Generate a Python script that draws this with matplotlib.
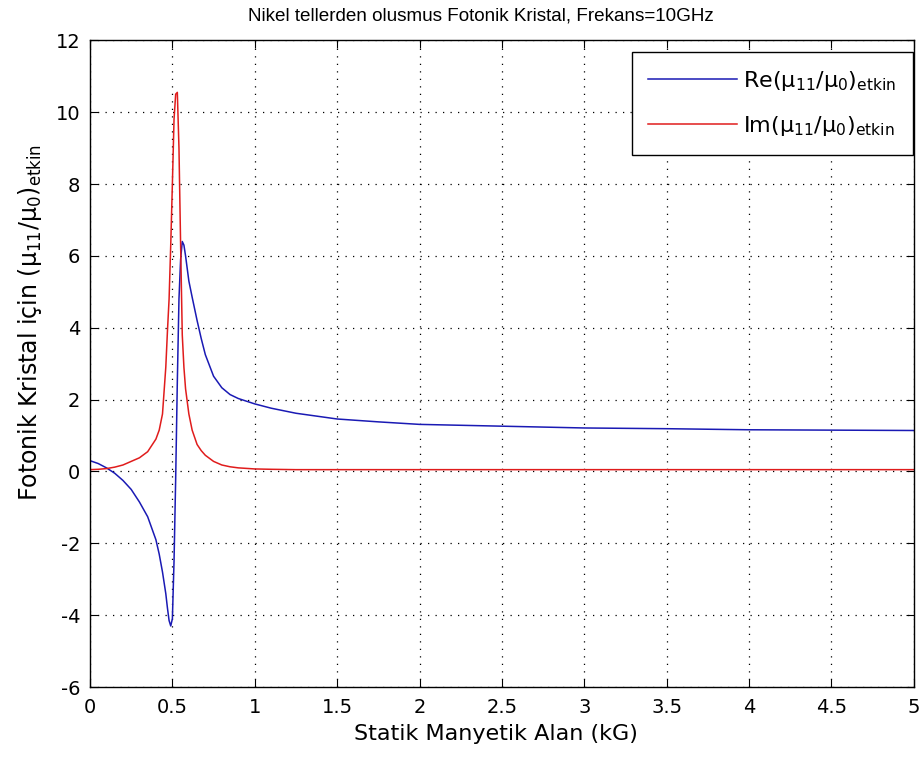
import matplotlib
matplotlib.use("Agg")
import matplotlib.pyplot as plt

# values
field_kG = [0.0, 0.05, 0.1, 0.15, 0.2, 0.25, 0.3, 0.35, 0.4, 0.42, 0.44, 0.46,
            0.47, 0.48, 0.49, 0.50, 0.51, 0.52, 0.53, 0.54, 0.55, 0.56, 0.57,
            0.58, 0.60, 0.62, 0.65, 0.675, 0.70, 0.75, 0.80, 0.85, 0.9, 1.0,
            1.1, 1.25, 1.5, 1.75, 2.0, 2.5, 3.0, 3.5, 4.0, 4.5, 5.0]

re_mu = [0.30, 0.22, 0.10, -0.05, -0.25, -0.50, -0.85, -1.26, -1.90, -2.30,
         -2.80, -3.40, -3.80, -4.15, -4.30, -4.10, -2.50, -0.20, 2.50, 4.80,
         5.90, 6.40, 6.30, 6.00, 5.30, 4.85, 4.20, 3.70, 3.25, 2.65, 2.33,
         2.14, 2.03, 1.88, 1.76, 1.62, 1.46, 1.38, 1.31, 1.26, 1.21, 1.19,
         1.16, 1.15, 1.14]

im_mu = [0.05, 0.06, 0.08, 0.12, 0.18, 0.28, 0.38, 0.55, 0.90, 1.15, 1.60,
         2.90, 3.90, 4.80, 6.30, 8.00, 9.80, 10.50, 10.55, 9.00, 6.30, 3.80,
         2.90, 2.30, 1.60, 1.15, 0.75, 0.58, 0.45, 0.28, 0.18, 0.13, 0.10,
         0.07, 0.06, 0.05, 0.05, 0.05, 0.05, 0.05, 0.05, 0.05, 0.05, 0.05,
         0.05]

x_ticks = [0, 0.5, 1, 1.5, 2, 2.5, 3, 3.5, 4, 4.5, 5]
x_tick_labels = ["0", "0.5", "1", "1.5", "2", "2.5", "3", "3.5", "4", "4.5", "5"]
y_ticks = [-6, -4, -2, 0, 2, 4, 6, 8, 10, 12]

plt.rcParams["font.family"] = ["DejaVu Sans"]
plt.rcParams["axes.unicode_minus"] = False

fig = plt.figure(figsize=(9.24, 7.6), dpi=100)
ax = fig.add_axes([0.0974, 0.096, 0.8916, 0.851])

ax.plot(field_kG, re_mu, color="#1a1ab4", linewidth=1.1,
        label="Re(μ$_{11}$/μ$_{0}$)$_{\\mathrm{etkin}}$")
ax.plot(field_kG, im_mu, color="#e01c1c", linewidth=1.1,
        label="Im(μ$_{11}$/μ$_{0}$)$_{\\mathrm{etkin}}$")

ax.set_xlim(0, 5)
ax.set_ylim(-6, 12)
ax.set_xticks(x_ticks)
ax.set_xticklabels(x_tick_labels)
ax.set_yticks(y_ticks)
ax.tick_params(direction="in", top=True, right=True, labelsize=14, length=6)
ax.tick_params(axis="x", pad=8)
ax.tick_params(axis="y", pad=7)
ax.grid(True, linestyle=(0, (1, 5)), color="black", linewidth=0.9)
for spine in ax.spines.values():
    spine.set_linewidth(1.0)

ax.set_title("Nikel tellerden olusmus Fotonik Kristal, Frekans=10GHz",
             fontsize=13.6, pad=14, x=0.474, family=["Liberation Sans", "DejaVu Sans"])
ax.set_xlabel("Statik Manyetik Alan (kG)", fontsize=16, labelpad=5, x=0.493)
ax.set_ylabel("Fotonik Kristal için (μ$_{11}$/μ$_{0}$)$_{\\mathrm{etkin}}$",
              fontsize=17, labelpad=8, y=0.564)

leg = ax.legend(loc="upper right", bbox_to_anchor=(0.9988, 0.9815),
                borderaxespad=0, fontsize=16, fancybox=False, framealpha=1,
                edgecolor="black", handlelength=4.0, borderpad=0.75,
                labelspacing=0.95, handletextpad=0.25)
leg.get_frame().set_linewidth(1.0)

fig.savefig("out.png", dpi=100)
